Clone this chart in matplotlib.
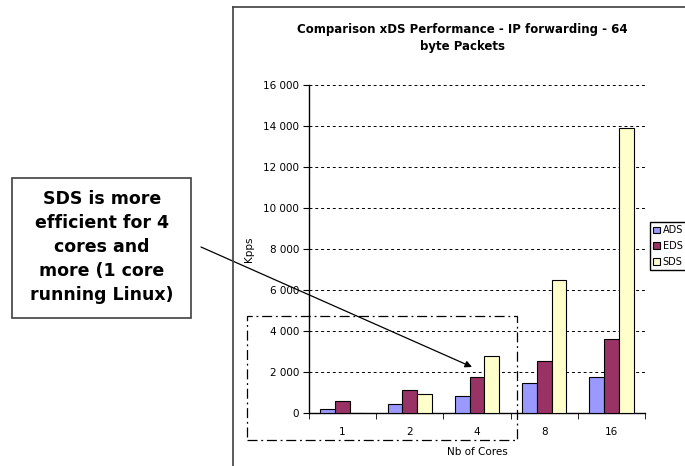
import matplotlib.pyplot as plt
import numpy as np
from matplotlib.patches import Rectangle
from matplotlib.lines import Line2D
from matplotlib.ticker import FuncFormatter

# Throughput (Kpps) per number of cores
cores = ['1', '2', '4', '8', '16']
ads = [200, 430, 830, 1470, 1750]
eds = [600, 1120, 1750, 2560, 3590]
sds = [0, 940, 2790, 6480, 13900]
series_names = ['ADS', 'EDS', 'SDS']
colors = ['#9999FF', '#993366', '#FFFFCC']

plt.rcParams['font.family'] = ['DejaVu Sans']

fig = plt.figure(figsize=(6.85, 4.66), dpi=100)
ax = fig.add_axes([309 / 685, 1 - 413 / 466, 336 / 685, 328 / 466])

x = np.arange(len(cores))
w = 0.22
for i, (vals, name, c) in enumerate(zip([ads, eds, sds], series_names, colors)):
    ax.bar(x + (i - 1) * w, vals, w, color=c, edgecolor='black', linewidth=0.8,
           label=name, zorder=3)

ax.set_xlim(-0.5, len(cores) - 0.5)
ax.set_ylim(0, 16000)
ax.set_yticks(np.arange(0, 16001, 2000))
ax.yaxis.set_major_formatter(FuncFormatter(lambda v, p: f'{int(v):,}'.replace(',', ' ')))
ax.set_xticks(x)
ax.set_xticklabels(cores)
ax.set_xticks(np.arange(-0.5, len(cores), 1), minor=True)
ax.tick_params(axis='x', which='major', length=0, pad=10, labelsize=7.5)
ax.tick_params(axis='x', which='minor', length=4, direction='out')
ax.tick_params(axis='y', length=4, direction='out', labelsize=7.5, pad=3)

ax.grid(True, axis='y', linestyle=(0, (3, 3)), color='black', linewidth=0.7, zorder=0)
ax.spines['top'].set_visible(False)
ax.spines['right'].set_visible(False)
ax.spines['left'].set_linewidth(1.0)
ax.spines['bottom'].set_linewidth(1.0)

ax.set_ylabel('Kpps', fontsize=7.5, labelpad=7)
ax.set_xlabel('Nb of Cores', fontsize=7.5, labelpad=7)

fig.text(462 / 685, 1 - 38 / 466, 'Comparison xDS Performance - IP forwarding - 64\nbyte Packets',
         ha='center', va='center', fontsize=8.5, fontweight='bold', linespacing=1.35)

# Legend box at the right edge
handles = [Rectangle((0, 0), 1, 1, facecolor=c, edgecolor='black', linewidth=0.8) for c in colors]
fig.legend(handles, series_names, loc='upper left',
           bbox_to_anchor=(650 / 685, 1 - 222 / 466), fontsize=7,
           handlelength=0.7, handleheight=0.7, handletextpad=0.25,
           borderpad=0.35, borderaxespad=0, labelspacing=0.6, fancybox=False,
           edgecolor='black', framealpha=1)

# Outer chart frame
fig.add_artist(Line2D([233 / 685, 233 / 685], [0, 1 - 7 / 466],
                      transform=fig.transFigure, color='#404040', linewidth=1.2))
fig.add_artist(Line2D([233 / 685, 1], [1 - 7 / 466, 1 - 7 / 466],
                      transform=fig.transFigure, color='#404040', linewidth=1.2))

# Dash-dot highlight around the first three groups
fig.add_artist(Rectangle((247 / 685, 1 - 440 / 466), 270 / 685, 124 / 466,
                         transform=fig.transFigure, fill=False, edgecolor='black',
                         linewidth=0.9, linestyle=(0, (8, 3, 1.5, 3))))

# Callout box with arrow
fig.text(102 / 685, 1 - 247 / 466,
         'SDS is more\nefficient for 4\ncores and\nmore (1 core\nrunning Linux)',
         ha='center', va='center', fontsize=12.5, fontweight='bold', linespacing=1.42)
fig.add_artist(Rectangle((12 / 685, 1 - 318 / 466), 179 / 685, 140 / 466,
                         transform=fig.transFigure, fill=False, edgecolor='#404040',
                         linewidth=1.2))
ax.annotate('', xy=(472 / 685, 1 - 367 / 466), xycoords='figure fraction',
            xytext=(201 / 685, 1 - 247 / 466), textcoords='figure fraction',
            arrowprops=dict(arrowstyle='-|>', color='black', linewidth=0.9,
                            mutation_scale=10, shrinkA=0, shrinkB=0))

fig.savefig('out.png', dpi=100)
